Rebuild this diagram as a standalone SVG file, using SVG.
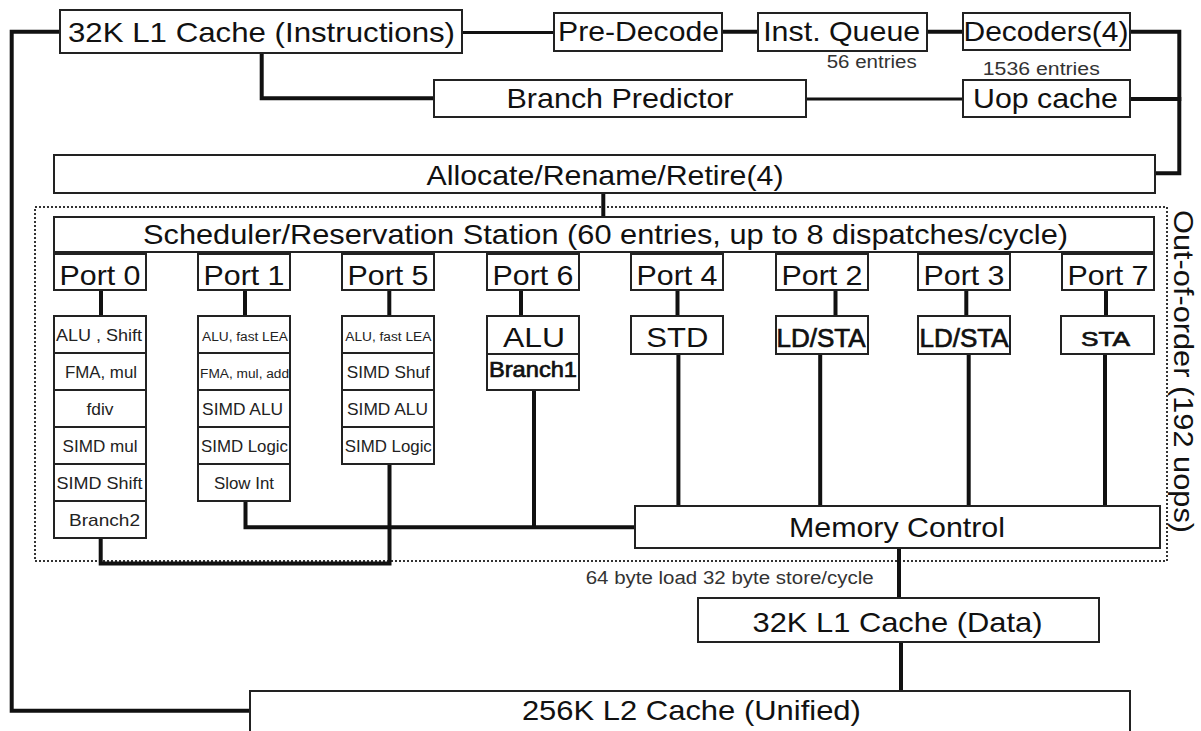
<svg xmlns="http://www.w3.org/2000/svg" width="1201" height="731" viewBox="0 0 1201 731">
<style>
.box{fill:#fff;stroke:#222;stroke-width:2}
.t{font-family:"Liberation Sans",Arial,sans-serif;fill:#111;text-anchor:middle}
.big{font-size:28px}
.unit{font-size:17px;fill:#222}
.tiny{font-size:12px;fill:#222}
.note{font-size:18px;fill:#333}
.semi{stroke:#111;stroke-width:0.7}
.wire{fill:none;stroke:#111;stroke-width:4;stroke-linecap:square}
.thin{stroke-width:3}
.ooo{fill:none;stroke:#333;stroke-width:2;stroke-dasharray:2 2}
</style>
<rect id="ooo-region" class="ooo" x="35" y="207" width="1132" height="354"/>
<g id="connectors">
<path class="wire" d="M60,31.7 H11.7 V710.7 H250"/>
<path class="wire thin" d="M462,32.5 H554"/>
<path class="wire" d="M722,31.7 H758"/>
<path class="wire" d="M927,31.7 H963"/>
<path class="wire" d="M1130,31.7 H1179.3 V173.3 H1155"/>
<path class="wire" d="M1130,99 H1179.3"/>
<path class="wire" d="M261.7,53 V98.3 H434"/>
<path class="wire thin" d="M806,99 H963"/>
<path class="wire" d="M603.3,193 V217"/>
<path class="wire" d="M101,290 V316"/>
<path class="wire" d="M245,290 V316"/>
<path class="wire" d="M389.3,290 V316"/>
<path class="wire" d="M521,290 V316"/>
<path class="wire" d="M677.5,290 V316"/>
<path class="wire" d="M835.5,290 V316"/>
<path class="wire" d="M966.3,290 V316"/>
<path class="wire" d="M1106,290 V316"/>
<path class="wire" d="M100.7,538 V563.5 H389.5 V464"/>
<path class="wire" d="M245.5,501.7 V527.3 H635"/>
<path class="wire" d="M534,390 V527"/>
<path class="wire" d="M678.4,354 V506"/>
<path class="wire" d="M820.2,354 V506"/>
<path class="wire" d="M968.7,354 V506"/>
<path class="wire" d="M1105,354 V506"/>
<path class="wire" d="M899,548 V598"/>
<path class="wire" d="M901,642 V691"/>
</g>
<g id="l1i"><rect class="box" x="60" y="10" width="402" height="43"/><text class="t big" x="261.5" y="42" font-size="29" textLength="387" lengthAdjust="spacingAndGlyphs">32K L1 Cache (Instructions)</text></g>
<g id="predecode"><rect class="box" x="554" y="13" width="168" height="38"/><text class="t big" x="638.5" y="41" textLength="161" lengthAdjust="spacingAndGlyphs">Pre-Decode</text></g>
<g id="instqueue"><rect class="box" x="758" y="13" width="169" height="38"/><text class="t big" x="841.7" y="41" textLength="157" lengthAdjust="spacingAndGlyphs">Inst. Queue</text></g>
<g id="decoders"><rect class="box" x="963" y="13" width="167" height="37"/><text class="t big" x="1046" y="41" textLength="165" lengthAdjust="spacingAndGlyphs">Decoders(4)</text></g>
<text class="t note" x="871.7" y="68" textLength="90" lengthAdjust="spacingAndGlyphs">56 entries</text>
<text class="t note" x="1041.3" y="75" textLength="117" lengthAdjust="spacingAndGlyphs">1536 entries</text>
<g id="branchpred"><rect class="box" x="434" y="80" width="372" height="37"/><text class="t big" x="620" y="108" textLength="227" lengthAdjust="spacingAndGlyphs">Branch Predictor</text></g>
<g id="uopcache"><rect class="box" x="963" y="80" width="167" height="37"/><text class="t big" x="1045.5" y="108" textLength="145" lengthAdjust="spacingAndGlyphs">Uop cache</text></g>
<g id="allocate"><rect class="box" x="54" y="155" width="1101" height="38"/><text class="t big" x="605" y="185" textLength="357" lengthAdjust="spacingAndGlyphs">Allocate/Rename/Retire(4)</text></g>
<g id="scheduler"><rect class="box" x="54" y="217" width="1100" height="35"/><text class="t big" x="605.5" y="243.5" font-size="27" textLength="925" lengthAdjust="spacingAndGlyphs">Scheduler/Reservation Station (60 entries, up to 8 dispatches/cycle)</text></g>
<g id="port0"><rect class="box" x="54" y="254" width="92" height="36"/><text class="t big" x="100" y="284.5" textLength="81" lengthAdjust="spacingAndGlyphs">Port 0</text></g>
<g id="port1"><rect class="box" x="198" y="254" width="92" height="36"/><text class="t big" x="244" y="284.5" textLength="81" lengthAdjust="spacingAndGlyphs">Port 1</text></g>
<g id="port5"><rect class="box" x="342" y="254" width="92" height="36"/><text class="t big" x="388" y="284.5" textLength="81" lengthAdjust="spacingAndGlyphs">Port 5</text></g>
<g id="port6"><rect class="box" x="487" y="254" width="92" height="36"/><text class="t big" x="533" y="284.5" textLength="81" lengthAdjust="spacingAndGlyphs">Port 6</text></g>
<g id="port4"><rect class="box" x="631" y="254" width="92" height="36"/><text class="t big" x="677" y="284.5" textLength="81" lengthAdjust="spacingAndGlyphs">Port 4</text></g>
<g id="port2"><rect class="box" x="776" y="254" width="92" height="36"/><text class="t big" x="822" y="284.5" textLength="81" lengthAdjust="spacingAndGlyphs">Port 2</text></g>
<g id="port3"><rect class="box" x="918" y="254" width="92" height="36"/><text class="t big" x="964" y="284.5" textLength="81" lengthAdjust="spacingAndGlyphs">Port 3</text></g>
<g id="port7"><rect class="box" x="1062" y="254" width="92" height="36"/><text class="t big" x="1108" y="284.5" textLength="81" lengthAdjust="spacingAndGlyphs">Port 7</text></g>
<g id="units-port0">
<rect class="box" x="54" y="316" width="92" height="37"/><text class="t unit" x="99" y="341" textLength="86" lengthAdjust="spacingAndGlyphs">ALU , Shift</text>
<rect class="box" x="54" y="353" width="92" height="37"/><text class="t unit" x="101" y="378" textLength="72" lengthAdjust="spacingAndGlyphs">FMA, mul</text>
<rect class="box" x="54" y="390" width="92" height="37"/><text class="t unit" x="100" y="415" textLength="27" lengthAdjust="spacingAndGlyphs">fdiv</text>
<rect class="box" x="54" y="427" width="92" height="37"/><text class="t unit" x="100" y="452" textLength="75" lengthAdjust="spacingAndGlyphs">SIMD mul</text>
<rect class="box" x="54" y="464" width="92" height="37"/><text class="t unit" x="99.5" y="489" textLength="86" lengthAdjust="spacingAndGlyphs">SIMD Shift</text>
<rect class="box" x="54" y="501" width="92" height="37"/><text class="t unit" x="104.5" y="526" textLength="71" lengthAdjust="spacingAndGlyphs">Branch2</text>
</g>
<g id="units-port1">
<rect class="box" x="198" y="316" width="92" height="37"/><text class="t tiny" x="245" y="341" textLength="86" lengthAdjust="spacingAndGlyphs">ALU, fast LEA</text>
<rect class="box" x="198" y="353" width="92" height="37"/><text class="t tiny" x="244.6" y="378" textLength="89" lengthAdjust="spacingAndGlyphs">FMA, mul, add</text>
<rect class="box" x="198" y="390" width="92" height="37"/><text class="t unit" x="242.6" y="415" textLength="81" lengthAdjust="spacingAndGlyphs">SIMD ALU</text>
<rect class="box" x="198" y="427" width="92" height="37"/><text class="t unit" x="244.5" y="452" textLength="87" lengthAdjust="spacingAndGlyphs">SIMD Logic</text>
<rect class="box" x="198" y="464" width="92" height="37"/><text class="t unit" x="244" y="489" textLength="60" lengthAdjust="spacingAndGlyphs">Slow Int</text>
</g>
<g id="units-port5">
<rect class="box" x="342" y="316" width="92" height="37"/><text class="t tiny" x="388.3" y="341" textLength="86" lengthAdjust="spacingAndGlyphs">ALU, fast LEA</text>
<rect class="box" x="342" y="353" width="92" height="37"/><text class="t unit" x="388.3" y="378" textLength="83" lengthAdjust="spacingAndGlyphs">SIMD Shuf</text>
<rect class="box" x="342" y="390" width="92" height="37"/><text class="t unit" x="387.5" y="415" textLength="81" lengthAdjust="spacingAndGlyphs">SIMD ALU</text>
<rect class="box" x="342" y="427" width="92" height="37"/><text class="t unit" x="388.3" y="452" textLength="87" lengthAdjust="spacingAndGlyphs">SIMD Logic</text>
</g>
<g id="units-port6">
<rect class="box" x="487" y="316" width="92" height="38"/><text class="t big" x="534" y="346.5" textLength="62" lengthAdjust="spacingAndGlyphs">ALU</text>
<rect class="box" x="487" y="354" width="92" height="36"/><text class="t semi" x="533" y="376.5" font-size="22" textLength="88" lengthAdjust="spacingAndGlyphs">Branch1</text>
</g>
<g id="unit-port4"><rect class="box" x="631" y="316" width="92" height="38"/><text class="t big" x="677.3" y="346.5" textLength="62" lengthAdjust="spacingAndGlyphs">STD</text></g>
<g id="unit-port2"><rect class="box" x="776" y="316" width="92" height="38"/><text class="t semi" x="821" y="346.5" font-size="25" textLength="89" lengthAdjust="spacingAndGlyphs">LD/STA</text></g>
<g id="unit-port3"><rect class="box" x="918" y="316" width="92" height="38"/><text class="t semi" x="964" y="346.5" font-size="25" textLength="89" lengthAdjust="spacingAndGlyphs">LD/STA</text></g>
<g id="unit-port7"><rect class="box" x="1061" y="316" width="93" height="38"/><text class="t semi" x="1105.5" y="345.7" font-size="21" textLength="49" lengthAdjust="spacingAndGlyphs">STA</text></g>
<text class="t big" transform="translate(1174,371.5) rotate(90)" x="0" y="0" textLength="323" lengthAdjust="spacingAndGlyphs">Out-of-order (192 uops)</text>
<g id="memctrl"><rect class="box" x="635" y="506" width="525" height="42"/><text class="t big" x="897" y="537" textLength="216" lengthAdjust="spacingAndGlyphs">Memory Control</text></g>
<text class="t note" x="729.7" y="584" textLength="288" lengthAdjust="spacingAndGlyphs">64 byte load 32 byte store/cycle</text>
<g id="l1d"><rect class="box" x="698" y="598" width="401" height="44"/><text class="t big" x="897.5" y="632" textLength="290" lengthAdjust="spacingAndGlyphs">32K L1 Cache (Data)</text></g>
<g id="l2"><rect class="box" x="250" y="691" width="880" height="60"/><text class="t big" x="691.4" y="720" textLength="339" lengthAdjust="spacingAndGlyphs">256K L2 Cache (Unified)</text></g>
</svg>
